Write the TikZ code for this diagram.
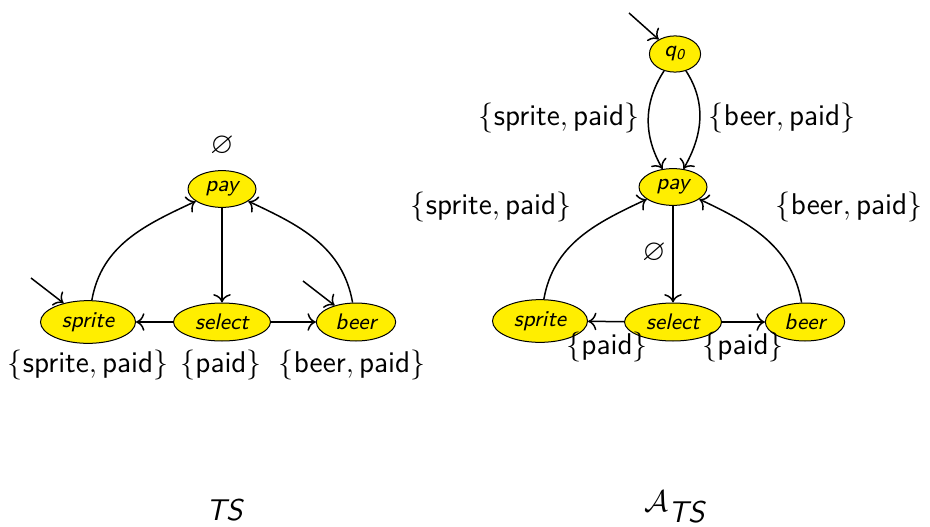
\documentclass[tikz,border=0pt]{standalone}
\usepackage{amssymb}
\usetikzlibrary{shapes.geometric,arrows.meta}
\definecolor{stateyellow}{RGB}{255,238,0}
\newcommand{\pset}[1]{$\{#1\}$}
\tikzset{
  st/.style={ellipse, draw, fill=stateyellow, line width=0.4pt, inner xsep=3pt, inner ysep=2.2pt,
    font=\fontsize{9}{10}\selectfont\sffamily\itshape},
  lab/.style={font=\fontsize{12}{14}\selectfont\sffamily, inner sep=0pt},
  edge/.style={-{To[scale=1.15]}, line width=0.6pt}
}
\begin{document}
\begin{tikzpicture}[x=0.4pt,y=0.4pt]
\useasboundingbox (0,0) rectangle (930,-526);
% ---- TS ----
\node[st] (pay1) at (222,-189) {pay};
\node[st] (sel1) at (222,-322) {select};
\node[st] (spr1) at (88,-322) {sprite};
\node[st] (beer1) at (356,-322) {beer};
\node[lab] (e1) at (222,-146) {$\varnothing$};
\node[lab] (l1) at (88,-365) {\pset{\textsf{sprite},\textsf{paid}}};
\node[lab] (l2) at (221,-365) {\pset{\textsf{paid}}};
\node[lab] (l3) at (352,-365) {\pset{\textsf{beer},\textsf{paid}}};
\coordinate (i1) at (31,-278);
\coordinate (i2) at (303,-281);
\draw[edge] (i1) -- (spr1);
\draw[edge] (i2) -- (beer1);
\draw[edge] (pay1) -- (sel1);
\draw[edge] (sel1) -- (spr1);
\draw[edge] (sel1) -- (beer1);
\draw[edge] (spr1) to[out=80,in=205] (pay1);
\draw[edge] (beer1) to[out=100,in=-25] (pay1);
\node[lab] (t1) at (225,-510) {\textit{TS}};
% ---- A_TS ----
\node[st] (q0) at (675,-54) {q\textsubscript{0}};
\node[st] (pay2) at (673,-187) {pay};
\node[st] (sel2) at (673,-322) {select};
\node[st] (spr2) at (540,-321) {sprite};
\node[st] (beer2) at (805,-322) {beer};
\coordinate (i3) at (629,-13);
\draw[edge] (i3) -- (q0);
\draw[edge] (q0) to[out=237,in=120] (pay2);
\draw[edge] (q0) to[out=-57,in=60] (pay2);
\draw[edge] (pay2) -- (sel2);
\draw[edge] (sel2) -- (spr2);
\draw[edge] (sel2) -- (beer2);
\draw[edge] (spr2) to[out=80,in=205] (pay2);
\draw[edge] (beer2) to[out=100,in=-25] (pay2);
\node[lab] (m1) at (559,-118) {\pset{\textsf{sprite},\textsf{paid}}};
\node[lab] (m2) at (782,-118) {\pset{\textsf{beer},\textsf{paid}}};
\node[lab] (m3) at (491,-207) {\pset{\textsf{sprite},\textsf{paid}}};
\node[lab] (m4) at (849,-207) {\pset{\textsf{beer},\textsf{paid}}};
\node[lab] (m5) at (654,-253) {$\varnothing$};
\node[lab] (m6) at (607,-347) {\pset{\textsf{paid}}};
\node[lab] (m7) at (743,-347) {\pset{\textsf{paid}}};
\node[lab] (t2) at (675,-507) {$\mathcal{A}_{\textit{TS}}$};
\end{tikzpicture}
\end{document}
